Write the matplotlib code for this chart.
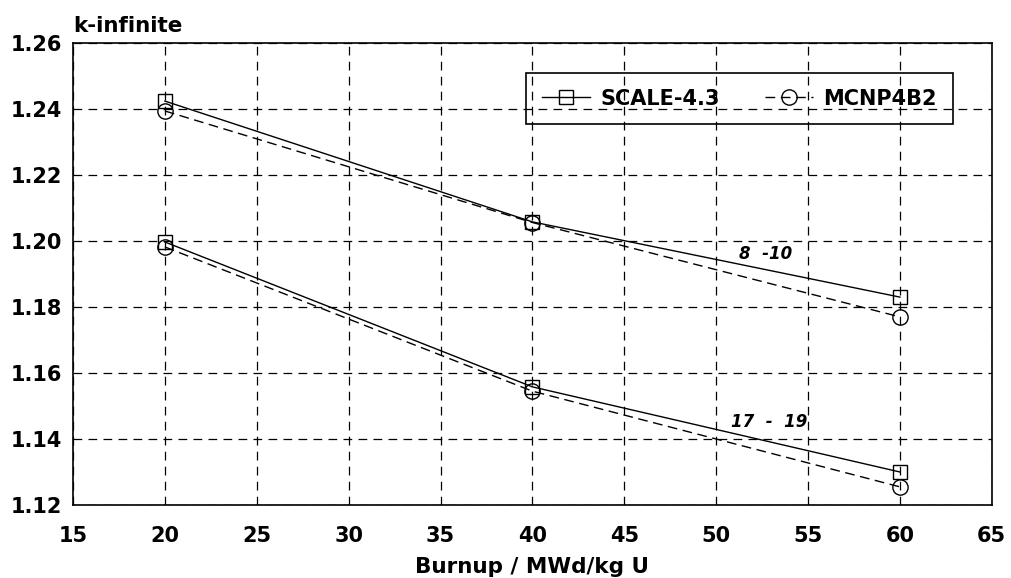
import numpy as np
import matplotlib.pyplot as plt

plt.rcParams['font.family'] = ['DejaVu Sans']
plt.rcParams['font.weight'] = 'bold'

burnup = [20, 40, 60]
scale_8_10 = [1.2424, 1.2058, 1.1830]
mcnp_8_10 = [1.2394, 1.2056, 1.1770]
scale_17_19 = [1.1997, 1.1558, 1.1300]
mcnp_17_19 = [1.1982, 1.1545, 1.1255]

xticks = np.arange(15, 66, 5)
yticks = np.arange(1.12, 1.261, 0.02)

fig = plt.figure(figsize=(10.11, 5.78), dpi=100)
ax = fig.add_axes([0.0722, 0.1263, 0.9088, 0.7993])

sq = dict(color='black', marker='s', markersize=10, markerfacecolor='none',
          markeredgewidth=1.0, linewidth=1.0)
ci = dict(color='black', marker='o', markersize=11, markerfacecolor='none',
          markeredgewidth=1.0, linewidth=1.0, dashes=(7, 4))

ax.plot(burnup, scale_8_10, label='SCALE-4.3', **sq)
ax.plot(burnup, mcnp_8_10, label='MCNP4B2', **ci)
ax.plot(burnup, scale_17_19, **sq)
ax.plot(burnup, mcnp_17_19, **ci)

ax.text(52.7, 1.1962, '8  -10', style='italic', fontweight='bold', fontsize=12,
        ha='center', va='center')
ax.text(52.9, 1.1450, '17  -  19', style='italic', fontweight='bold', fontsize=12,
        ha='center', va='center')

ax.set_xlim(15, 65)
ax.set_ylim(1.12, 1.26)
ax.set_xticks(xticks)
ax.set_yticks(yticks)
ax.set_xticklabels([str(v) for v in xticks], fontsize=15, fontweight='bold')
ax.set_yticklabels(['%.2f' % v for v in yticks], fontsize=15, fontweight='bold')
ax.tick_params(length=0)
ax.tick_params(axis='x', pad=15)
ax.tick_params(axis='y', pad=8)
ax.grid(True, color='black', linewidth=0.9, linestyle=(0, (7, 5)))

for s in ax.spines.values():
    s.set_linewidth(1.2)

ax.set_xlabel('Burnup / MWd/kg U', fontsize=15.5, fontweight='bold', labelpad=8)
fig.text(0.0722, 0.937, 'k-infinite', fontsize=15.5, fontweight='bold',
         ha='left', va='bottom')

leg = ax.legend(loc='upper right', bbox_to_anchor=(0.9575, 0.935), ncol=2,
                frameon=True, fancybox=False, fontsize=15, handlelength=2.3,
                columnspacing=2.2, borderpad=0.75, handletextpad=0.5,
                borderaxespad=0, framealpha=1)
leg.get_frame().set_edgecolor('black')
leg.get_frame().set_linewidth(1.2)
leg.get_frame().set_facecolor('none')

fig.savefig('out.png', dpi=100)
